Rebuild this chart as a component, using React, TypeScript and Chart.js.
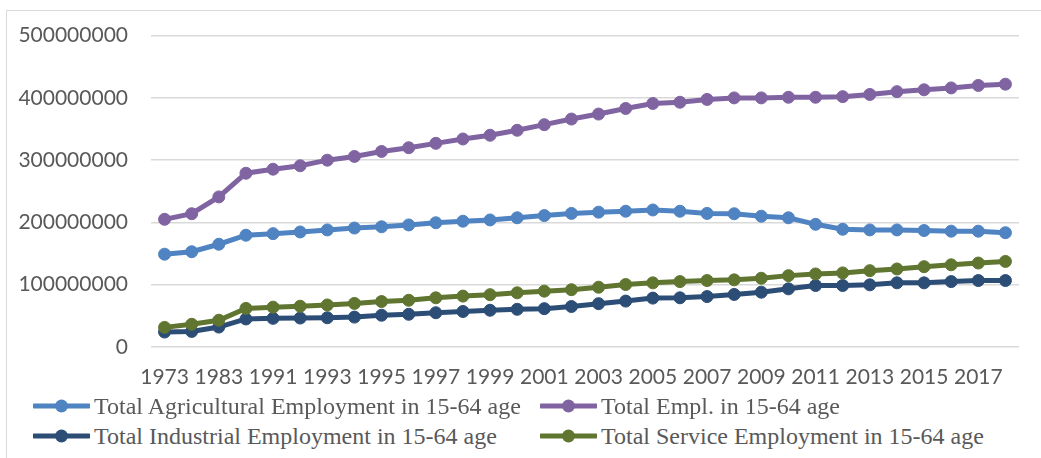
import React, { useEffect, useRef } from "react";
import { Chart, registerables } from "chart.js";

Chart.register(...registerables);

// Category labels (every second one is shown on the axis)
const years: string[] = [
  "1973", "1978", "1983", "1988", "1991", "1992", "1993", "1994", "1995", "1996",
  "1997", "1998", "1999", "2000", "2001", "2002", "2003", "2004", "2005", "2006",
  "2007", "2008", "2009", "2010", "2011", "2012", "2013", "2014", "2015", "2016",
  "2017", "2018",
];

const agricultural: number[] = [
  149e6, 153e6, 165e6, 179.5e6, 182e6, 184.7e6, 188e6, 191e6, 193e6, 196e6,
  199.5e6, 202e6, 204e6, 207.5e6, 211e6, 214.5e6, 216.5e6, 218e6, 220e6, 218e6,
  214.5e6, 214e6, 210e6, 207.5e6, 197e6, 189e6, 188e6, 188e6, 187e6, 186e6,
  186e6, 183.5e6,
];

const totalEmpl: number[] = [
  205e6, 214e6, 241e6, 279e6, 285.5e6, 291e6, 300e6, 306e6, 314e6, 320e6,
  327e6, 334e6, 340e6, 348e6, 357e6, 366e6, 374e6, 383e6, 391e6, 393e6,
  397.5e6, 400e6, 400e6, 401e6, 401e6, 402e6, 405.5e6, 410e6, 413e6, 416e6,
  420e6, 422e6,
];

const industrial: number[] = [
  24e6, 25e6, 32e6, 45e6, 46e6, 46.5e6, 47e6, 48e6, 51e6, 52.5e6,
  55e6, 57e6, 59e6, 60.5e6, 61.6e6, 65e6, 69.6e6, 73.7e6, 78.5e6, 79e6,
  81e6, 84.4e6, 88e6, 93.4e6, 98.7e6, 98.7e6, 99.8e6, 103e6, 103e6, 105e6,
  106.7e6, 106.7e6,
];

const service: number[] = [
  31.5e6, 36.5e6, 43e6, 62e6, 64e6, 65.5e6, 67.5e6, 70e6, 73e6, 75e6,
  79e6, 81.7e6, 84e6, 87e6, 89.7e6, 92e6, 96e6, 100.3e6, 103e6, 105e6,
  106.7e6, 107.8e6, 110.4e6, 114.6e6, 117.3e6, 119e6, 122.6e6, 125.3e6, 129e6, 132e6,
  134.8e6, 137.4e6,
];

const yTicks: number[] = [0, 100000000, 200000000, 300000000, 400000000, 500000000];

const seriesNames: string[] = [
  "Total Agricultural Employment in 15-64 age",
  "Total Empl. in 15-64 age",
  "Total Industrial Employment in 15-64 age",
  "Total Service Employment in 15-64 age",
];

const COLORS = {
  agri: "#4f83c1",
  empl: "#8064a2",
  ind: "#2c4d75",
  serv: "#5f7530",
};

const TEXT_GRAY = "#595959";
const GRID_GRAY = "#d9d9d9";
const AXIS_FONT = "Lato, 'Open Sans', sans-serif";
const LEGEND_FONT = "'Liberation Serif', 'DejaVu Serif', serif";

function lineDataset(label: string, data: number[], color: string, order: number) {
  return {
    label,
    data,
    borderColor: color,
    backgroundColor: color,
    pointBackgroundColor: color,
    pointBorderColor: color,
    borderWidth: 5,
    pointRadius: 6,
    pointBorderWidth: 1,
    tension: 0,
    fill: false,
    order,
  };
}

function LegendMarker({ color }: { color: string }) {
  return (
    <svg width={57} height={16} style={{ display: "block", flex: "0 0 auto" }}>
      <line x1={1} y1={8} x2={56} y2={8} stroke={color} strokeWidth={5} strokeLinecap="round" />
      <circle cx={28.5} cy={8} r={6.5} fill={color} />
    </svg>
  );
}

function LegendItem({ color, text }: { color: string; text: string }) {
  return (
    <div style={{ display: "flex", alignItems: "center", height: 24 }}>
      <LegendMarker color={color} />
      <span
        style={{
          marginLeft: 4,
          fontFamily: LEGEND_FONT,
          fontSize: 24,
          lineHeight: "24px",
          color: TEXT_GRAY,
          whiteSpace: "nowrap",
        }}
      >
        {text}
      </span>
    </div>
  );
}

export default function App() {
  const canvasRef = useRef<HTMLCanvasElement | null>(null);

  useEffect(() => {
    const canvas = canvasRef.current;
    if (!canvas) return;
    const chart = new Chart(canvas, {
      type: "line",
      data: {
        labels: years,
        datasets: [
          lineDataset(seriesNames[0], agricultural, COLORS.agri, 3),
          lineDataset(seriesNames[1], totalEmpl, COLORS.empl, 2),
          lineDataset(seriesNames[2], industrial, COLORS.ind, 1),
          lineDataset(seriesNames[3], service, COLORS.serv, 0),
        ],
      },
      options: {
        responsive: false,
        animation: false,
        devicePixelRatio: 1,
        layout: { padding: { left: 0, right: 22, top: 33, bottom: 0 } },
        plugins: {
          legend: { display: false },
          tooltip: { enabled: false },
        },
        scales: {
          x: {
            type: "category",
            offset: true,
            grid: { display: false, drawTicks: false },
            border: { display: false },
            ticks: {
              autoSkip: false,
              maxRotation: 0,
              minRotation: 0,
              padding: 18,
              color: TEXT_GRAY,
              font: { family: AXIS_FONT, size: 21 },
              callback: (_v: any, i: number) => (i % 2 === 0 ? years[i] : ""),
            },
            afterFit: (s: any) => {
              s.height = 48;
            },
          },
          y: {
            min: yTicks[0],
            max: yTicks[yTicks.length - 1],
            afterBuildTicks: (s: any) => {
              s.ticks = yTicks.map((v) => ({ value: v }));
            },
            grid: { color: GRID_GRAY, lineWidth: 1.5, drawTicks: false },
            border: { display: false },
            ticks: {
              padding: 23,
              color: TEXT_GRAY,
              font: { family: AXIS_FONT, size: 21 },
              callback: (v: any) => String(v),
            },
            afterFit: (s: any) => {
              s.width = 151;
            },
          },
        },
      },
    } as any);
    return () => chart.destroy();
  }, []);

  return (
    <div
      style={{
        position: "absolute",
        left: 0,
        top: 0,
        width: 1041,
        height: 458,
        background: "#ffffff",
        overflow: "hidden",
      }}
    >
      <div
        style={{
          position: "absolute",
          left: 6,
          top: 10,
          width: 1100,
          height: 500,
          border: `1.5px solid ${GRID_GRAY}`,
          boxSizing: "border-box",
        }}
      />
      <canvas
        ref={canvasRef}
        width={1041}
        height={395}
        style={{ position: "absolute", left: 0, top: 0, width: 1041, height: 395 }}
      />
      <div style={{ position: "absolute", left: 33, top: 394 }}>
        <LegendItem color={COLORS.agri} text={seriesNames[0]} />
      </div>
      <div style={{ position: "absolute", left: 540, top: 394 }}>
        <LegendItem color={COLORS.empl} text={seriesNames[1]} />
      </div>
      <div style={{ position: "absolute", left: 33, top: 424 }}>
        <LegendItem color={COLORS.ind} text={seriesNames[2]} />
      </div>
      <div style={{ position: "absolute", left: 540, top: 424 }}>
        <LegendItem color={COLORS.serv} text={seriesNames[3]} />
      </div>
    </div>
  );
}
